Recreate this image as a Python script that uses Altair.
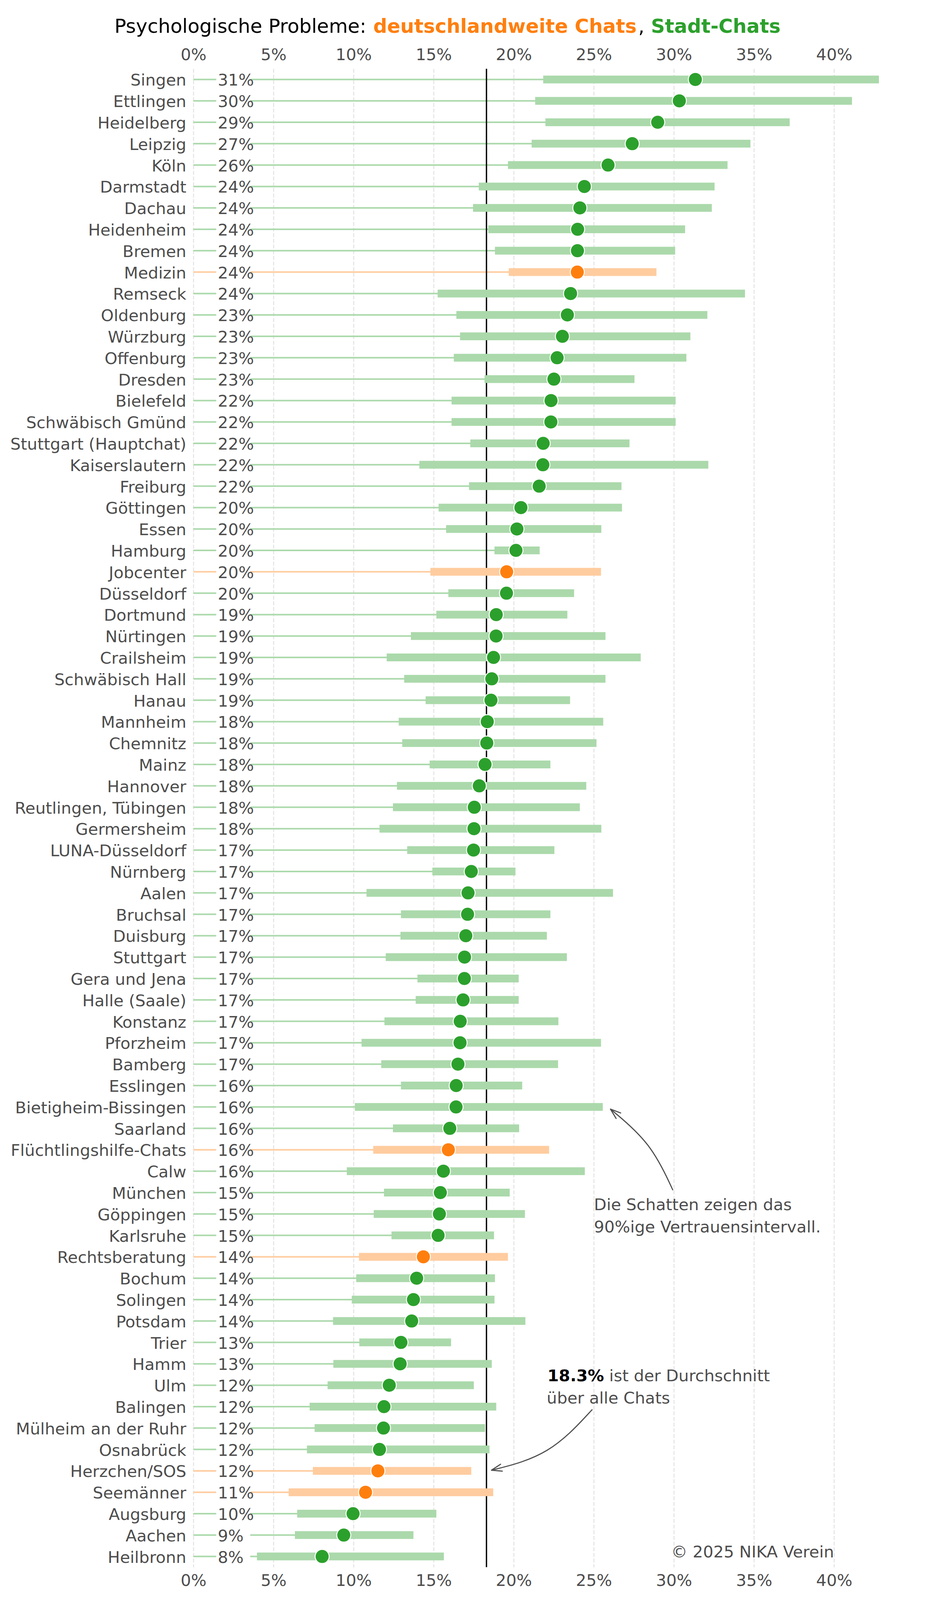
import math
import altair as alt
import pandas as pd

# ---------------- data ----------------
names = [
    "Singen", "Ettlingen", "Heidelberg", "Leipzig", "Köln", "Darmstadt", "Dachau",
    "Heidenheim", "Bremen", "Medizin", "Remseck", "Oldenburg", "Würzburg", "Offenburg",
    "Dresden", "Bielefeld", "Schwäbisch Gmünd", "Stuttgart (Hauptchat)", "Kaiserslautern",
    "Freiburg", "Göttingen", "Essen", "Hamburg", "Jobcenter", "Düsseldorf", "Dortmund",
    "Nürtingen", "Crailsheim", "Schwäbisch Hall", "Hanau", "Mannheim", "Chemnitz", "Mainz",
    "Hannover", "Reutlingen, Tübingen", "Germersheim", "LUNA-Düsseldorf", "Nürnberg",
    "Aalen", "Bruchsal", "Duisburg", "Stuttgart", "Gera und Jena", "Halle (Saale)",
    "Konstanz", "Pforzheim", "Bamberg", "Esslingen", "Bietigheim-Bissingen", "Saarland",
    "Flüchtlingshilfe-Chats", "Calw", "München", "Göppingen", "Karlsruhe", "Rechtsberatung",
    "Bochum", "Solingen", "Potsdam", "Trier", "Hamm", "Ulm", "Balingen",
    "Mülheim an der Ruhr", "Osnabrück", "Herzchen/SOS", "Seemänner", "Augsburg", "Aachen",
    "Heilbronn",
]
values = [
    31.34, 30.34, 28.99, 27.40, 25.89, 24.41, 24.13, 23.99, 23.98, 23.97,
    23.55, 23.35, 23.04, 22.71, 22.51, 22.33, 22.32, 21.84, 21.82, 21.59,
    20.45, 20.20, 20.14, 19.56, 19.55, 18.91, 18.90, 18.74, 18.63, 18.58,
    18.35, 18.32, 18.21, 17.85, 17.54, 17.52, 17.49, 17.35, 17.15, 17.12,
    17.01, 16.93, 16.92, 16.84, 16.66, 16.65, 16.52, 16.41, 16.40, 16.01,
    15.92, 15.61, 15.42, 15.36, 15.28, 14.36, 13.94, 13.74, 13.63, 12.96,
    12.91, 12.23, 11.90, 11.87, 11.62, 11.52, 10.75, 9.97, 9.39, 8.04,
]
lows = [
    21.84, 21.34, 21.98, 21.12, 19.64, 17.82, 17.46, 18.41, 18.83, 19.69,
    15.25, 16.42, 16.65, 16.26, 18.18, 16.12, 16.12, 17.29, 14.11, 17.21,
    15.31, 15.78, 18.80, 14.80, 15.92, 15.17, 13.58, 12.07, 13.16, 14.50,
    12.82, 13.04, 14.75, 12.71, 12.46, 11.62, 13.35, 14.92, 10.81, 12.96,
    12.93, 12.01, 13.99, 13.88, 11.93, 10.50, 11.73, 12.96, 10.08, 12.46,
    11.23, 9.58, 11.90, 11.26, 12.37, 10.34, 10.17, 9.89, 8.72, 10.36,
    8.74, 8.38, 7.26, 7.57, 7.09, 7.46, 5.95, 6.48, 6.34, 3.97,
]
highs = [
    42.80, 41.12, 37.23, 34.78, 33.35, 32.54, 32.37, 30.70, 30.08, 28.91,
    34.44, 32.09, 31.03, 30.78, 27.54, 30.11, 30.11, 27.23, 32.15, 26.73,
    26.76, 25.47, 21.62, 25.45, 23.77, 23.35, 25.73, 27.93, 25.73, 23.52,
    25.59, 25.17, 22.29, 24.53, 24.13, 25.47, 22.54, 20.11, 26.20, 22.29,
    22.07, 23.32, 20.31, 20.31, 22.79, 25.45, 22.77, 20.53, 25.56, 20.34,
    22.21, 24.44, 19.75, 20.70, 18.77, 19.64, 18.83, 18.80, 20.73, 16.09,
    18.63, 17.51, 18.91, 18.21, 18.49, 17.35, 18.72, 15.17, 13.74, 15.64,
]
national_chats = ["Medizin", "Jobcenter", "Flüchtlingshilfe-Chats", "Rechtsberatung",
                  "Herzchen/SOS", "Seemänner"]
mean_value = 18.3
x_ticks = [0, 5, 10, 15, 20, 25, 30, 35, 40]
x_max = 42.8

# ---------------- layout / style ----------------
W, H = 1755, 3836
N = len(names)
PX_X = W / x_max
PX_Y = H / N
FONT = "DejaVu Sans"
GRAY = "#4d4d4d"
FS = 41.7
LIGHT = ["#ffcc9f", "#abd9ab"]
DARK = ["#ff7f0e", "#2ca02c"]

df = pd.DataFrame({"name": names, "value": values, "low": lows, "high": highs})
df["row"] = list(range(N))
df["group"] = ["national" if n in national_chats else "city" for n in names]

xscale = alt.Scale(domain=[0, x_max], nice=False, zero=False)
yscale = alt.Scale(domain=[-0.5, N - 0.5], reverse=True, nice=False, zero=False)
Y = alt.Y("row:Q", scale=yscale, axis=None)

axis_common = dict(values=x_ticks, labelExpr="datum.value + '%'", labelFont=FONT,
                   labelFontSize=FS, labelColor=GRAY, domain=False, ticks=False,
                   tickSize=0, labelFlush=False, labelBaseline="alphabetic",
                   labelOverlap=False, title=None)
top_axis = alt.Axis(orient="top", labelPadding=23, grid=True, gridDash=[10, 4.5],
                    gridColor="#e3e3e3", gridWidth=2.5, **axis_common)
bottom_axis = alt.Axis(orient="bottom", labelPadding=47, grid=False, **axis_common)

light_scale = alt.Scale(domain=["national", "city"], range=LIGHT)
dark_scale = alt.Scale(domain=["national", "city"], range=DARK)

base = alt.Chart(df)

thin = base.transform_calculate(zero="0").mark_rule(strokeWidth=4).encode(
    x=alt.X("zero:Q", scale=xscale, axis=top_axis),
    x2="value:Q",
    y=Y,
    color=alt.Color("group:N", scale=light_scale, legend=None),
)

mean_df = pd.DataFrame({"mean": [mean_value]})
mean_line = alt.Chart(mean_df).mark_rule(strokeWidth=3.4, color="black").encode(
    x=alt.X("mean:Q", axis=None)
)

ci = base.mark_rule(strokeWidth=20).encode(
    x=alt.X("low:Q", axis=bottom_axis),
    x2="high:Q",
    y=Y,
    color=alt.Color("group:N", scale=light_scale, legend=None),
)

label_box = base.mark_rule(strokeWidth=30, color="white").encode(
    x=alt.value(58.5), x2=alt.value(145.5), y=Y
)

value_text = base.transform_calculate(
    label="format(datum.value, '.0f') + '%'"
).mark_text(align="left", baseline="alphabetic", dy=16, font=FONT, fontSize=FS,
            color=GRAY).encode(x=alt.value(62.5), y=Y, text="label:N")

name_text = base.mark_text(align="right", baseline="alphabetic", dy=16, font=FONT,
                           fontSize=FS, color=GRAY).encode(
    x=alt.value(-18), y=Y, text="name:N")

points = base.mark_circle(size=1296, opacity=1, stroke="white", strokeWidth=2.5).encode(
    x=alt.X("value:Q", axis=None),
    y=Y,
    fill=alt.Fill("group:N", scale=dark_scale, legend=None),
)

# ---------------- annotations ----------------
ann_text = ["Die Schatten zeigen das", "90%ige Vertrauensintervall.",
            "über alle Chats", "© 2025 NIKA Verein"]
ann_x = [25.01, 25.01, 22.06, 40.0]
ann_y = [52.82, 53.86, 61.86, 69.04]
ann_align = ["left", "left", "left", "right"]
ann_df = pd.DataFrame({"t": ann_text, "x": ann_x, "y": ann_y, "al": ann_align})

ann_layers = []
for al in ["left", "right"]:
    ann_layers.append(
        alt.Chart(ann_df[ann_df["al"] == al]).mark_text(
            align=al, baseline="alphabetic", font=FONT, fontSize=FS, color=GRAY
        ).encode(x=alt.X("x:Q", axis=None), y=alt.Y("y:Q", axis=None), text="t:N")
    )

mean_label_df = pd.DataFrame({"t": ["18.3%"], "x": [22.11], "y": [60.82]})
ann_layers.append(
    alt.Chart(mean_label_df).mark_text(align="left", baseline="alphabetic", font=FONT,
                                       fontSize=FS, fontWeight="bold", color="black")
    .encode(x=alt.X("x:Q", axis=None), y=alt.Y("y:Q", axis=None), text="t:N")
)
mean_rest_df = pd.DataFrame({"t": ["ist der Durchschnitt"], "x": [22.11], "y": [60.82]})
ann_layers.append(
    alt.Chart(mean_rest_df).mark_text(align="left", baseline="alphabetic", font=FONT,
                                      fontSize=FS, color=GRAY, dx=158)
    .encode(x=alt.X("x:Q", axis=None), y=alt.Y("y:Q", axis=None), text="t:N")
)

# arrows: start, control, tip (data units: % and row index)
arrows = {
    "schatten": [(29.94, 51.89), (28.74, 49.56), (26.04, 48.10)],
    "mittel": [(24.91, 62.13), (22.40, 64.53), (18.61, 64.97)],
}
curve_rows, head_rows = [], []
for key, (s, c, e) in arrows.items():
    cb = (0.125 * s[0] + 0.75 * c[0] + 0.125 * e[0], 0.125 * s[1] + 0.75 * c[1] + 0.125 * e[1])
    for i, p in enumerate([s, cb, e]):
        curve_rows.append({"a": key, "o": i, "x": p[0], "y": p[1]})
    dx = (e[0] - cb[0]) * PX_X
    dy = (e[1] - cb[1]) * PX_Y
    n = math.hypot(dx, dy)
    ux, uy = -dx / n, -dy / n
    L, ang = 28, math.radians(19)
    pts = []
    for sg in (1, -1):
        ca, sa = math.cos(sg * ang), math.sin(sg * ang)
        rx, ry = ux * ca - uy * sa, ux * sa + uy * ca
        pts.append((e[0] + L * rx / PX_X, e[1] + L * ry / PX_Y))
    for i, p in enumerate([pts[0], e, pts[1]]):
        head_rows.append({"a": key, "o": i, "x": p[0], "y": p[1]})

curve = alt.Chart(pd.DataFrame(curve_rows)).mark_line(
    interpolate="basis", strokeWidth=2.8, color=GRAY
).encode(x=alt.X("x:Q", axis=None), y=alt.Y("y:Q", axis=None), detail="a:N", order="o:O")
head = alt.Chart(pd.DataFrame(head_rows)).mark_line(
    strokeWidth=2.8, color=GRAY, strokeCap="round", strokeJoin="round"
).encode(x=alt.X("x:Q", axis=None), y=alt.Y("y:Q", axis=None), detail="a:N", order="o:O")

# title pieces
title_parts = ["Psychologische Probleme: ", "deutschlandweite Chats", ",", "Stadt-Chats"]
title_colors = ["black", DARK[0], "black", DARK[1]]
title_weights = ["normal", "bold", "normal", "bold"]
title_x = [-202, 460.5, 1139, 1171.5]
one = pd.DataFrame({"k": [0]})
title_layers = [
    alt.Chart(one).mark_text(text=t, align="left", baseline="alphabetic", font=FONT,
                             fontSize=49.7, fontWeight=w, color=col)
    .encode(x=alt.value(xp), y=alt.value(-92.5))
    for t, col, w, xp in zip(title_parts, title_colors, title_weights, title_x)
]

chart = alt.layer(
    thin, mean_line, ci, label_box, value_text, name_text, points,
    *ann_layers, curve, head, *title_layers
).resolve_axis(x="independent").properties(
    width=W, height=H,
    autosize=alt.AutoSizeParams(type="none"),
    padding={"left": 487, "top": 168, "right": 100, "bottom": 70},
).configure_view(stroke=None)

chart.save("out.html", embed_options={"renderer": "svg", "actions": False})
